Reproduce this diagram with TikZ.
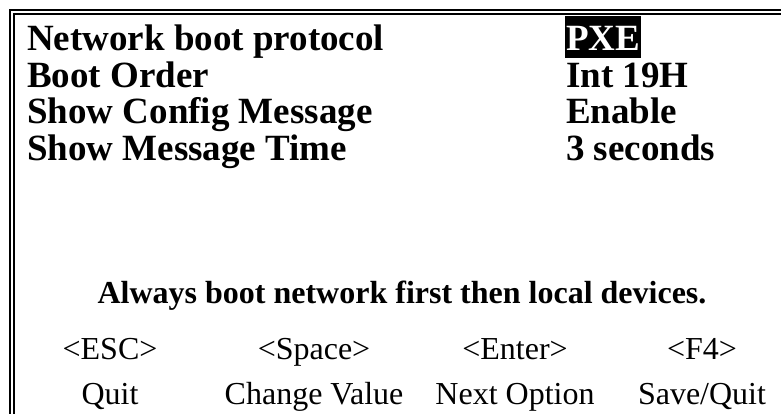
\documentclass[tikz,border=0pt]{standalone}
\usepackage{fontspec}
\setmainfont{Liberation Serif}

\begin{document}
\begin{tikzpicture}[x=1pt, y=-1pt,
    lab/.style={anchor=base west, inner sep=0pt, font=\fontsize{37}{37}\selectfont\bfseries},
    note/.style={anchor=base, inner sep=0pt, font=\fontsize{32}{32}\selectfont\bfseries},
    keyline/.style={anchor=base, inner sep=0pt, font=\fontsize{32}{32}\selectfont}]

    \useasboundingbox (0,0) rectangle (781,414);

    % Double frame on the left and top
    \draw[line width=2.5pt] (10,414) -- (10,10) -- (781,10);
    \draw[line width=1.5pt] (14,414) -- (14,14) -- (781,14);


    % Setting names
    \node[lab] (lab1) at (27,51) {Network boot protocol};
    \node[lab] (lab2) at (27,88) {Boot Order};
    \node[lab] (lab3) at (27,124) {Show Config Message};
    \node[lab] (lab4) at (27,161) {Show Message Time};

    % Setting values, the first one highlighted
    \node[lab, fill=black, text=white, inner xsep=1pt, text height=35pt, text depth=7pt] (val1) at (565,51) {PXE};
    \node[lab] (val2) at (566,88) {Int 19H};
    \node[lab] (val3) at (566,124) {Enable};
    \node[lab] (val4) at (566,161) {3 seconds};


    % Help line
    \node[note] (help) at (402,303) {Always boot network first then local devices.};


    % Keys and what they do
    \node[keyline] (key1) at (110,359) {<ESC>};
    \node[keyline] (key2) at (314,359) {<Space>};
    \node[keyline] (key3) at (515,359) {<Enter>};
    \node[keyline] (key4) at (702,359) {<F4>};

    \node[keyline] (act1) at (110,404) {Quit};
    \node[keyline] (act2) at (314,404) {Change Value};
    \node[keyline] (act3) at (515,404) {Next Option};
    \node[keyline] (act4) at (702,404) {Save/Quit};

\end{tikzpicture}
\end{document}
